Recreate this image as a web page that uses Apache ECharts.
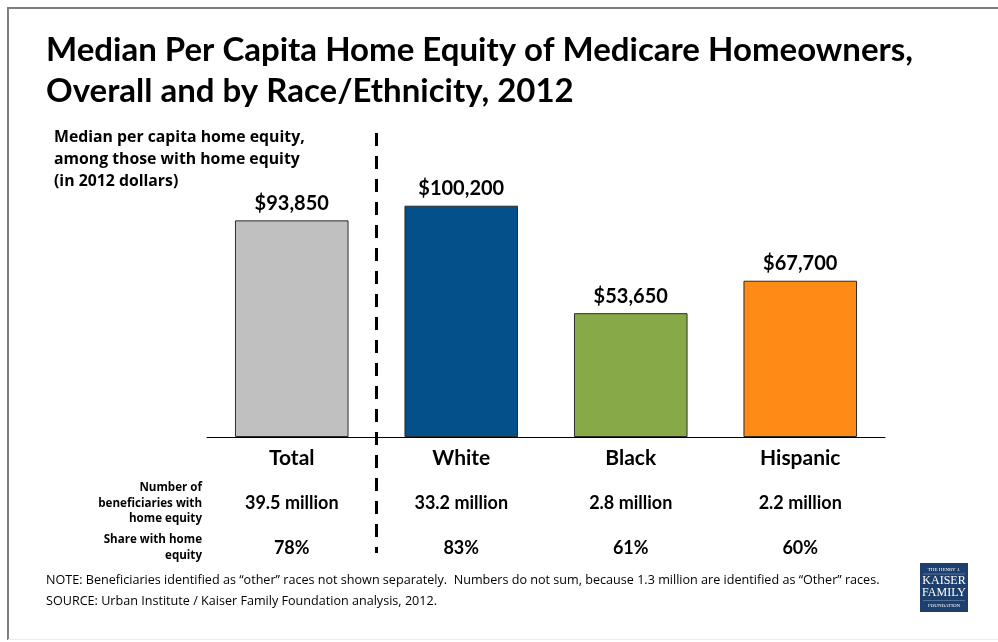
<!DOCTYPE html>
<html>
<head>
<meta charset="utf-8">
<script src="https://cdn.jsdelivr.net/npm/echarts@6/dist/echarts.min.js"></script>
<style>
  html, body { margin: 0; padding: 0; background: #ffffff; }
  #chart { width: 998px; height: 642px; }
</style>
</head>
<body>
<div id="chart"></div>
<script>
// Median per capita home equity (2012 dollars) by group
var categories = ['Total', 'White', 'Black', 'Hispanic'];
var equityValues = [93850, 100200, 53650, 67700];
var barColors = ['#C0C0C0', '#03508A', '#88A947', '#FF8A15'];
var beneficiaries = ['39.5 million', '33.2 million', '2.8 million', '2.2 million'];
var shareWithEquity = ['78%', '83%', '61%', '60%'];

var FONT = 'Lato, "Open Sans", sans-serif';
var SMALL_FONT = '"Open Sans", Lato, sans-serif';

function money(v) {
  return '$' + v.toLocaleString('en-US');
}

var chart = echarts.init(document.getElementById('chart'), null, { renderer: 'canvas' });

var option = {
  backgroundColor: '#ffffff',
  animation: false,
  title: {
    text: 'Median Per Capita Home Equity of Medicare Homeowners,\nOverall and by Race/Ethnicity, 2012',
    left: 46,
    top: 30,
    padding: 0,
    textStyle: {
      fontFamily: FONT,
      fontWeight: 'bold',
      fontSize: 33,
      lineHeight: 41,
      color: '#000000'
    }
  },
  grid: { left: 207, right: 113, top: 160, bottom: 205, containLabel: false },
  xAxis: [
    {
      type: 'category',
      data: categories,
      position: 'bottom',
      axisLine: { show: true, lineStyle: { color: '#000000', width: 1 } },
      axisTick: { show: false },
      axisLabel: {
        margin: 11,
        fontFamily: FONT,
        fontWeight: 'bold',
        fontSize: 21,
        color: '#000000'
      }
    },
    {
      type: 'category',
      data: beneficiaries,
      position: 'bottom',
      offset: 57,
      axisLine: { show: false },
      axisTick: { show: false },
      axisLabel: {
        margin: 0,
        fontFamily: FONT,
        fontWeight: 'bold',
        fontSize: 18,
        color: '#000000'
      }
    },
    {
      type: 'category',
      data: shareWithEquity,
      position: 'bottom',
      offset: 102,
      axisLine: { show: false },
      axisTick: { show: false },
      axisLabel: {
        margin: 0,
        fontFamily: FONT,
        fontWeight: 'bold',
        fontSize: 18,
        color: '#000000'
      }
    }
  ],
  yAxis: {
    type: 'value',
    min: 0,
    max: 120000,
    show: false,
    splitLine: { show: false }
  },
  series: [
    {
      type: 'bar',
      xAxisIndex: 0,
      barWidth: '67%',
      data: equityValues.map(function (v, i) {
        return {
          value: v,
          itemStyle: { color: barColors[i] }
        };
      }),
      itemStyle: { borderColor: '#2b2b2b', borderWidth: 1 },
      label: {
        show: true,
        position: 'top',
        distance: 7,
        fontFamily: FONT,
        fontWeight: 'bold',
        fontSize: 20,
        color: '#000000',
        formatter: function (p) { return money(p.value); }
      }
    }
  ],
  graphic: [
    // frame around the slide
    { type: 'line', shape: { x1: 7, y1: 8, x2: 998, y2: 8 }, style: { stroke: '#7f7f7f', lineWidth: 2 } },
    { type: 'line', shape: { x1: 8, y1: 7, x2: 8, y2: 640 }, style: { stroke: '#7f7f7f', lineWidth: 2 } },
    { type: 'line', shape: { x1: 8, y1: 639.5, x2: 998, y2: 639.5 }, style: { stroke: '#ececec', lineWidth: 1 } },
    // divider between the overall bar and the race/ethnicity bars
    {
      type: 'line',
      shape: { x1: 376.5, y1: 133, x2: 376.5, y2: 553 },
      style: { stroke: '#000000', lineWidth: 3, lineDash: [13, 10] }
    },
    // axis caption
    {
      type: 'text',
      left: 54,
      top: 126,
      style: {
        text: 'Median per capita home equity,\namong those with home equity\n(in 2012 dollars)',
        font: 'bold 15.8px ' + SMALL_FONT,
        lineHeight: 22,
        fill: '#000000'
      }
    },
    // row headers for the table under the bars
    {
      type: 'text',
      x: 202,
      y: 480,
      style: {
        text: 'Number of\nbeneficiaries with\nhome equity',
        font: 'bold 11.6px ' + SMALL_FONT,
        lineHeight: 15.5,
        align: 'right',
        fill: '#000000'
      }
    },
    {
      type: 'text',
      x: 202,
      y: 532,
      style: {
        text: 'Share with home\nequity',
        font: 'bold 11.6px ' + SMALL_FONT,
        lineHeight: 15.5,
        align: 'right',
        fill: '#000000'
      }
    },
    // notes
    {
      type: 'text',
      left: 46,
      top: 570,
      style: {
        text: 'NOTE: Beneficiaries identified as \u201cother\u201d races not shown separately.  Numbers do not sum, because 1.3 million are identified as \u201cOther\u201d races.\nSOURCE: Urban Institute / Kaiser Family Foundation analysis, 2012.',
        font: '12.6px ' + SMALL_FONT,
        lineHeight: 21,
        fill: '#000000'
      }
    },
    // foundation logo
    {
      type: 'group',
      left: 920,
      top: 563,
      children: [
        { type: 'rect', shape: { x: 0, y: 0, width: 48, height: 49 }, style: { fill: '#1D3F6E' } },
        { type: 'text', style: { x: 24, y: 4, text: 'THE HENRY J.', font: '5px "Liberation Serif", serif', fill: '#ffffff', align: 'center' } },
        { type: 'line', shape: { x1: 3, y1: 11, x2: 45, y2: 11 }, style: { stroke: '#8fa3bf', lineWidth: 0.5 } },
        { type: 'text', style: { x: 24, y: 12, text: 'KAISER', font: '12px "Liberation Serif", serif', fill: '#ffffff', align: 'center' } },
        { type: 'text', style: { x: 24, y: 24, text: 'FAMILY', font: '12px "Liberation Serif", serif', fill: '#ffffff', align: 'center' } },
        { type: 'line', shape: { x1: 3, y1: 37.5, x2: 45, y2: 37.5 }, style: { stroke: '#8fa3bf', lineWidth: 0.5 } },
        { type: 'text', style: { x: 24, y: 40, text: 'FOUNDATION', font: '5px "Liberation Serif", serif', fill: '#ffffff', align: 'center' } }
      ]
    }
  ]
};

chart.setOption(option);
</script>
</body>
</html>
